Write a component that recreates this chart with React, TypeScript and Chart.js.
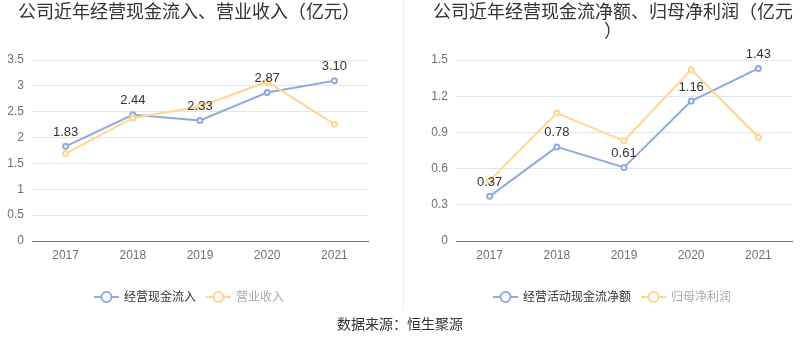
import React, { useEffect, useRef } from "react";
import { Chart, registerables } from "chart.js";

Chart.register(...registerables);

const years = ["2017", "2018", "2019", "2020", "2021"];
const cashInflow = [1.83, 2.44, 2.33, 2.87, 3.1];
const revenue = [1.69, 2.38, 2.6, 3.08, 2.26];
const netCashFlow = [0.37, 0.78, 0.61, 1.16, 1.43];
const netProfit = [0.5, 1.06, 0.83, 1.42, 0.86];

const leftTitle = ["公司近年经营现金流入、营业收入（亿元）"];
const rightTitle = ["公司近年经营现金流净额、归母净利润（亿元", "）"];
const leftLegend = ["经营现金流入", "营业收入"];
const rightLegend = ["经营活动现金流净额", "归母净利润"];
const sourceText = "数据来源：恒生聚源";

const BLUE = "#8FAADC";
const ORANGE = "#FFD591";
const FONT = '"Liberation Sans", "Noto Sans CJK SC", sans-serif';

type PanelCfg = {
  titleLines: string[];
  titleCenter: number;
  legendLabels: string[];
  legendCenter: number;
  yAxisWidth: number;
  padRight: number;
  yMax: number;
  yStep: number;
  seriesA: number[];
  seriesB: number[];
};

const overlayPlugin = {
  id: "overlay",
  afterDatasetsDraw(chart: any) {
    const ctx = chart.ctx;
    const meta = chart.getDatasetMeta(0);
    ctx.save();
    ctx.font = `13px ${FONT}`;
    ctx.fillStyle = "#333";
    ctx.textAlign = "center";
    ctx.textBaseline = "middle";
    meta.data.forEach((pt: any, i: number) => {
      const v = chart.data.datasets[0].data[i] as number;
      ctx.fillText(v.toFixed(2), pt.x, pt.y - 14);
    });
    ctx.restore();
  },
  afterDraw(chart: any, _args: any, opts: any) {
    const ctx = chart.ctx;
    ctx.save();
    ctx.font = `18px ${FONT}`;
    ctx.fillStyle = "#333";
    ctx.textAlign = "center";
    ctx.textBaseline = "middle";
    (opts.titleLines as string[]).forEach((line, i) => {
      ctx.fillText(line, opts.titleCenter, 13 + i * 19);
    });
    ctx.font = `12px ${FONT}`;
    const labels: string[] = opts.legendLabels;
    const colors = [BLUE, ORANGE];
    const textColors = ["#333", "#aaa"];
    const widths = labels.map((l) => ctx.measureText(l).width);
    const total = widths.reduce((a, w) => a + 25 + 5 + w, 0) + 10 * (labels.length - 1);
    let x = opts.legendCenter - total / 2;
    const y = 297;
    labels.forEach((l, i) => {
      ctx.strokeStyle = colors[i];
      ctx.lineWidth = 2;
      ctx.beginPath();
      ctx.moveTo(x, y);
      ctx.lineTo(x + 25, y);
      ctx.stroke();
      ctx.beginPath();
      ctx.arc(x + 12.5, y, 5, 0, Math.PI * 2);
      ctx.fillStyle = "#fff";
      ctx.fill();
      ctx.stroke();
      ctx.fillStyle = textColors[i];
      ctx.textAlign = "left";
      ctx.fillText(l, x + 30, y + 1);
      x += 25 + 5 + widths[i] + 10;
    });
    ctx.restore();
  },
};

function Panel({ cfg }: { cfg: PanelCfg }) {
  const ref = useRef<HTMLCanvasElement>(null);
  useEffect(() => {
    if (!ref.current) return;
    const chart = new Chart(ref.current, {
      type: "line",
      data: {
        labels: years,
        datasets: [
          {
            label: cfg.legendLabels[0],
            data: cfg.seriesA,
            borderColor: BLUE,
            backgroundColor: "#fff",
            pointBackgroundColor: "#fff",
            pointBorderColor: BLUE,
            borderWidth: 2,
            pointRadius: 2.5,
            pointBorderWidth: 2,
            tension: 0,
            order: 1,
          },
          {
            label: cfg.legendLabels[1],
            data: cfg.seriesB,
            borderColor: ORANGE,
            backgroundColor: "#fff",
            pointBackgroundColor: "#fff",
            pointBorderColor: ORANGE,
            borderWidth: 2,
            pointRadius: 2.5,
            pointBorderWidth: 2,
            tension: 0,
            order: 0,
          },
        ],
      },
      options: {
        animation: false,
        responsive: true,
        maintainAspectRatio: false,
        layout: { padding: { top: 60, bottom: 87, left: 0, right: cfg.padRight } },
        plugins: {
          legend: { display: false },
          title: { display: false },
          tooltip: { enabled: false },
          overlay: {
            titleLines: cfg.titleLines,
            titleCenter: cfg.titleCenter,
            legendLabels: cfg.legendLabels,
            legendCenter: cfg.legendCenter,
          },
        } as any,
        scales: {
          x: {
            offset: true,
            grid: { display: false, drawTicks: false },
            border: { display: true, color: "#6E7079", width: 1 },
            ticks: { color: "#6E7079", font: { size: 12, family: FONT }, padding: 7 },
            afterFit: (s: any) => {
              s.height = 30;
            },
          },
          y: {
            min: 0,
            max: cfg.yMax,
            grid: {
              color: (c: any) => (c.index === 0 ? "rgba(0,0,0,0)" : "#E0E6F1"),
              drawTicks: false,
            },
            border: { display: false },
            ticks: {
              stepSize: cfg.yStep,
              color: "#6E7079",
              font: { size: 12, family: FONT },
              padding: 8,
              callback: (v: any) => String(+Number(v).toFixed(2)),
            },
            afterFit: (s: any) => {
              s.width = cfg.yAxisWidth;
            },
          },
        },
      },
      plugins: [overlayPlugin],
    });
    return () => chart.destroy();
  }, [cfg]);
  return <canvas ref={ref} />;
}

const leftCfg: PanelCfg = {
  titleLines: leftTitle,
  titleCenter: 189,
  legendLabels: leftLegend,
  legendCenter: 189,
  yAxisWidth: 32,
  padRight: 32,
  yMax: 3.5,
  yStep: 0.5,
  seriesA: cashInflow,
  seriesB: revenue,
};

const rightCfg: PanelCfg = {
  titleLines: rightTitle,
  titleCenter: 213,
  legendLabels: rightLegend,
  legendCenter: 212,
  yAxisWidth: 56,
  padRight: 8,
  yMax: 1.5,
  yStep: 0.3,
  seriesA: netCashFlow,
  seriesB: netProfit,
};

export default function App() {
  return (
    <div
      style={{
        position: "fixed",
        left: 0,
        top: 0,
        width: 800,
        height: 358,
        background: "#fff",
        fontFamily: FONT,
      }}
    >
      <div style={{ position: "absolute", left: 0, top: 0, width: 400, height: 358 }}>
        <Panel cfg={leftCfg} />
      </div>
      <div style={{ position: "absolute", left: 400, top: 0, width: 400, height: 358 }}>
        <Panel cfg={rightCfg} />
      </div>
      <div
        style={{
          position: "absolute",
          left: 403,
          top: 0,
          width: 1,
          height: 310,
          background: "#EEEEEE",
        }}
      />
      <div
        style={{
          position: "absolute",
          left: 0,
          top: 314,
          width: 800,
          textAlign: "center",
          fontSize: 14,
          lineHeight: "20px",
          color: "#333",
        }}
      >
        {sourceText}
      </div>
    </div>
  );
}
